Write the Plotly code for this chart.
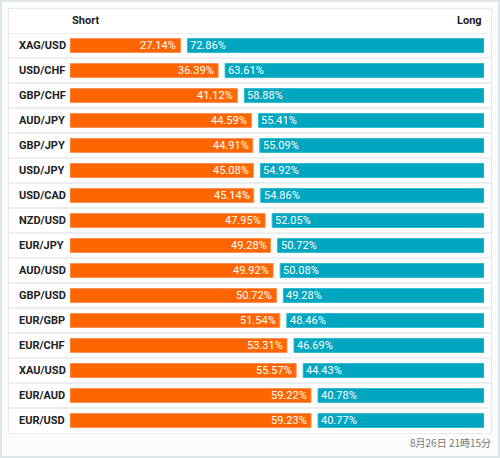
import plotly.graph_objects as go

pairs = ["XAG/USD", "USD/CHF", "GBP/CHF", "AUD/JPY", "GBP/JPY", "USD/JPY", "USD/CAD", "NZD/USD",
         "EUR/JPY", "AUD/USD", "GBP/USD", "EUR/GBP", "EUR/CHF", "XAU/USD", "EUR/AUD", "EUR/USD"]
short_pct = [27.14, 36.39, 41.12, 44.59, 44.91, 45.08, 45.14, 47.95,
             49.28, 49.92, 50.72, 51.54, 53.31, 55.57, 59.22, 59.23]
long_pct = [72.86, 63.61, 58.88, 55.41, 55.09, 54.92, 54.86, 52.05,
            50.72, 50.08, 49.28, 48.46, 46.69, 44.43, 40.78, 40.77]
header_short = "Short"
header_long = "Long"
timestamp = "8月26日 21時15分"

W, H = 500, 458
ML, MR, MT, MB = 70, 16, 33, 25
PW = W - ML - MR
GAP = 1.72  # gap between the two bars in axis units
XMAX = 100 + GAP
n = len(pairs)
ypos = list(range(n))
long_base = [s + GAP for s in short_pct]

ORANGE = "#ff6600"
TEAL = "#00a6c0"
FONT = "Roboto"

fig = go.Figure()
fig.add_trace(go.Bar(
    y=ypos, x=short_pct, base=[0] * n, orientation="h",
    marker=dict(color=ORANGE, line=dict(color="#ff9055", width=1)),
    width=0.56, hoverinfo="skip",
))
fig.add_trace(go.Bar(
    y=ypos, x=long_pct, base=long_base, orientation="h",
    marker=dict(color=TEAL, line=dict(color="#33bcd0", width=1)),
    width=0.56, hoverinfo="skip",
))


def px_to_paper_x(px):
    return (px - ML) / PW


def py_to_paper_y(py):
    return 1 - (py - MT) / (H - MT - MB)


shapes = []
# outer frame
shapes.append(dict(type="rect", xref="paper", yref="paper",
                   x0=px_to_paper_x(1), x1=px_to_paper_x(W - 1),
                   y0=py_to_paper_y(H - 1), y1=py_to_paper_y(1),
                   line=dict(color="#dfe6e9", width=2), fillcolor="rgba(0,0,0,0)", layer="below"))
# inner table frame
shapes.append(dict(type="rect", xref="paper", yref="paper",
                   x0=px_to_paper_x(8.5), x1=px_to_paper_x(491.5),
                   y0=py_to_paper_y(433.5), y1=py_to_paper_y(8.5),
                   line=dict(color="#e6eaec", width=1), fillcolor="white", layer="below"))
# row separators
for i in range(n):
    shapes.append(dict(type="line", xref="paper", yref="y",
                       x0=px_to_paper_x(9), x1=px_to_paper_x(491),
                       y0=i - 0.5, y1=i - 0.5,
                       line=dict(color="#eceff1", width=2), layer="below"))

annotations = []
for i, p in enumerate(pairs):
    annotations.append(dict(x=px_to_paper_x(17), xref="paper", y=i, yref="y",
                            text=f"<b>{p}</b>", showarrow=False, xanchor="left", yanchor="middle",
                            font=dict(size=11, color="#222", family=FONT)))
    annotations.append(dict(x=short_pct[i], xref="x", y=i, yref="y",
                            text=f"{short_pct[i]:.2f}%", showarrow=False, xanchor="right",
                            yanchor="middle", xshift=-2,
                            font=dict(size=11, color="white", family=FONT)))
    annotations.append(dict(x=long_base[i], xref="x", y=i, yref="y",
                            text=f"{long_pct[i]:.2f}%", showarrow=False, xanchor="left",
                            yanchor="middle", xshift=1,
                            font=dict(size=11, color="white", family=FONT)))
annotations.append(dict(x=0, xref="paper", y=py_to_paper_y(20), yref="paper",
                        text=f"<b>{header_short}</b>", showarrow=False, xanchor="left",
                        yanchor="middle", font=dict(size=11, color="#222", family=FONT)))
annotations.append(dict(x=1, xref="paper", y=py_to_paper_y(20), yref="paper",
                        text=f"<b>{header_long}</b>", showarrow=False, xanchor="right",
                        yanchor="middle", font=dict(size=11, color="#222", family=FONT)))
annotations.append(dict(x=px_to_paper_x(493), xref="paper", y=py_to_paper_y(442), yref="paper",
                        text=timestamp, showarrow=False, xanchor="right", yanchor="middle",
                        font=dict(size=10, color="#777", family="Noto Sans CJK JP")))

fig.update_layout(
    width=W, height=H,
    margin=dict(l=ML, r=MR, t=MT, b=MB, pad=0),
    paper_bgcolor="#fbfcfc", plot_bgcolor="rgba(0,0,0,0)",
    barmode="overlay", showlegend=False,
    xaxis=dict(range=[0, XMAX], visible=False, fixedrange=True),
    yaxis=dict(range=[n - 0.5, -0.5], visible=False, fixedrange=True),
    shapes=shapes, annotations=annotations,
)

fig.write_html("out.html", config={"displayModeBar": False},
               post_script="document.body.style.margin='0';document.body.style.padding='0';")
